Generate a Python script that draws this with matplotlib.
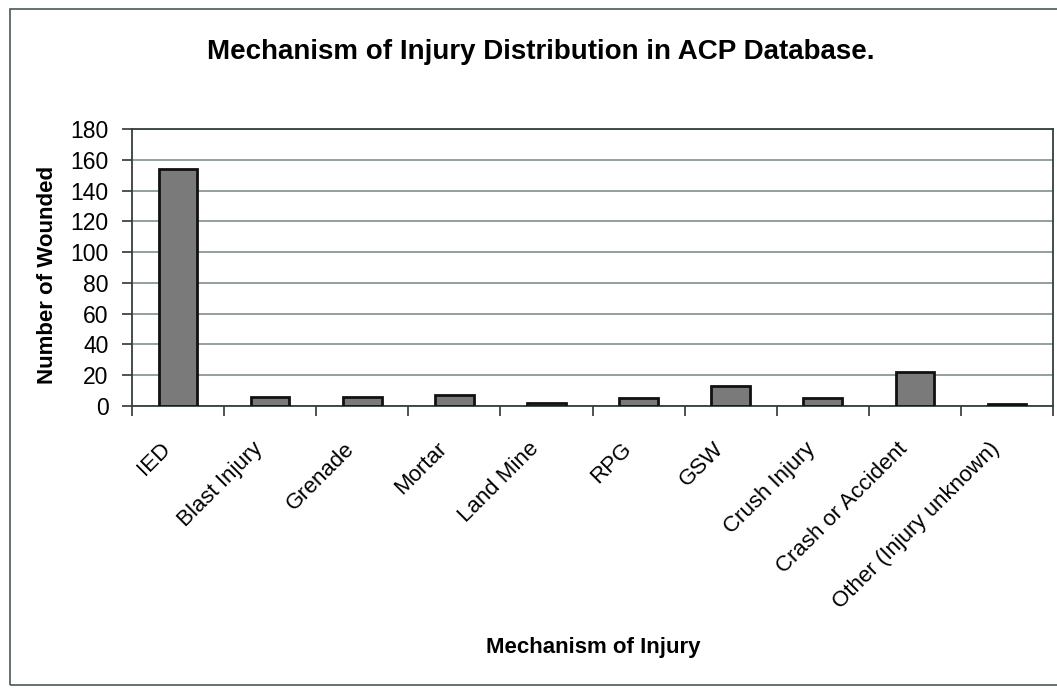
import matplotlib
matplotlib.use("Agg")
import matplotlib.pyplot as plt
from matplotlib.patches import Rectangle
import matplotlib.transforms as mtransforms
import numpy as np

plt.rcParams['font.family'] = ['Liberation Sans', 'DejaVu Sans']

categories = ["IED", "Blast Injury", "Grenade", "Mortar", "Land Mine", "RPG",
              "GSW", "Crush Injury", "Crash or Accident", "Other (Injury unknown)"]
wounded = [154, 6, 6, 7, 2, 5, 13, 5, 22, 1]
yticks = [0, 20, 40, 60, 80, 100, 120, 140, 160, 180]

W, H = 1057, 688
fig = plt.figure(figsize=(W / 100, H / 100), dpi=100)
fig.patch.set_facecolor('white')

# outer chart frame
fig.add_artist(Rectangle((10 / W, 3 / H), (W - 8) / W, (H - 12) / H,
                         transform=fig.transFigure, fill=False,
                         edgecolor='#4a5a5a', linewidth=1.2))

ax = fig.add_axes([132 / W, 1 - 406 / H, (1053 - 132) / W, (406 - 129) / H])
x = np.arange(len(categories))
ax.bar(x, wounded, width=0.42, color='#7a7a7a', edgecolor='#111111',
       linewidth=2, zorder=3)

ax.set_xlim(-0.5, len(categories) - 0.5)
ax.set_ylim(0, 180)
ax.set_yticks(yticks)
ax.set_yticklabels([str(v) for v in yticks], fontsize=16.5)
ax.yaxis.grid(True, color='#7f9090', linewidth=1.2, zorder=0)
ax.set_axisbelow(True)

ax.set_xticks(np.arange(len(categories) + 1) - 0.5)
ax.set_xticklabels([])
ax.set_xticks(x, minor=True)
ax.set_xticklabels(categories, minor=True, rotation=45, ha='right',
                   rotation_mode='anchor', fontsize=16)
ax.tick_params(axis='x', which='minor', length=0, pad=16)
ax.tick_params(axis='x', which='major', length=7, width=1.2, color='#333333')
ax.tick_params(axis='y', length=7, width=1.2, color='#333333', pad=10)

offset = mtransforms.ScaledTranslation(-18 / 100, -10 / 100, fig.dpi_scale_trans)
for lbl in ax.get_xticklabels(minor=True):
    lbl.set_transform(lbl.get_transform() + offset)

for s in ax.spines.values():
    s.set_color('#334040')
    s.set_linewidth(1.3)

fig.text(48 / W, 1 - 275 / H, "Number of Wounded", fontsize=16,
         fontweight='bold', ha='center', va='center', rotation=90)
fig.text(593 / W, 1 - 648 / H, "Mechanism of Injury", fontsize=16,
         fontweight='bold', ha='center', va='center')
fig.text(541 / W, 1 - 52 / H, "Mechanism of Injury Distribution in ACP Database.",
         fontsize=20, fontweight='bold', ha='center', va='center')

fig.savefig("out.png", dpi=100)
